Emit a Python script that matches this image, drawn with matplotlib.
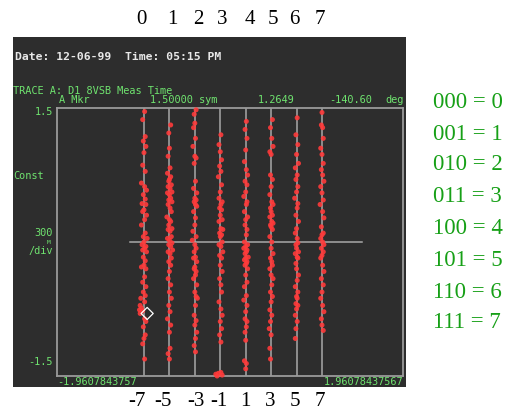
import matplotlib
matplotlib.use("Agg")
import matplotlib.pyplot as plt
from matplotlib.patches import Rectangle

# 8VSB symbol levels and their 3-bit codes
levels = [-7, -5, -3, -1, 1, 3, 5, 7]
codes = ["000", "001", "010", "011", "100", "101", "110", "111"]
top_labels = ["0", "1", "2", "3", "4", "5", "6", "7"]
bottom_labels = ["-7", "-5", "-3", "-1", "1", "3", "5", "7"]

# measured constellation samples per symbol level: (offset from level, value)
sym_m7 = [(0.05, 1.46), (-0.10, 1.37), (0.10, 1.18), (-0.05, 1.13), (0.15, 1.07), (0.00, 1.00),
          (-0.10, 0.86), (0.10, 0.79), (-0.20, 0.66), (0.05, 0.62), (0.20, 0.58), (-0.05, 0.53),
          (0.10, 0.48), (-0.15, 0.43), (0.15, 0.42), (0.00, 0.36), (-0.10, 0.34), (0.20, 0.30),
          (0.05, 0.25), (-0.20, 0.19), (0.10, 0.10), (-0.05, 0.06), (0.25, 0.04), (0.00, 0.00),
          (-0.15, -0.03), (0.15, -0.05), (0.05, -0.07), (-0.10, -0.09), (0.20, -0.11), (-0.05, -0.17),
          (0.10, -0.21), (0.00, -0.26), (-0.20, -0.28), (0.15, -0.30), (0.05, -0.39), (-0.10, -0.45),
          (0.15, -0.50), (-0.05, -0.56), (0.10, -0.60), (-0.25, -0.63), (0.05, -0.67), (-0.30, -0.71),
          (-0.20, -0.74), (-0.35, -0.76), (-0.10, -0.77), (-0.30, -0.80), (0.05, -0.86), (0.15, -0.89),
          (-0.05, -0.95), (0.10, -1.04), (0.00, -1.08), (-0.10, -1.14), (0.05, -1.31)]
sym_m5 = [(0.10, 1.31), (-0.05, 1.22), (0.00, 1.05), (-0.10, 0.96), (0.05, 0.83), (-0.15, 0.77),
          (0.10, 0.73), (0.00, 0.70), (-0.05, 0.68), (0.15, 0.64), (-0.10, 0.62), (0.05, 0.60),
          (0.20, 0.56), (-0.15, 0.55), (0.00, 0.53), (0.10, 0.49), (-0.05, 0.47), (0.20, 0.45),
          (-0.10, 0.42), (0.05, 0.38), (0.15, 0.34), (-0.20, 0.28), (0.00, 0.25), (0.10, 0.23),
          (-0.05, 0.19), (0.20, 0.15), (-0.10, 0.14), (0.05, 0.12), (0.15, 0.06), (-0.15, 0.04),
          (0.00, 0.02), (0.20, -0.01), (-0.05, -0.03), (0.10, -0.05), (0.25, -0.09), (-0.10, -0.11),
          (0.05, -0.13), (0.15, -0.18), (-0.05, -0.22), (0.10, -0.26), (0.00, -0.33), (-0.10, -0.41),
          (0.10, -0.48), (0.00, -0.56), (0.15, -0.63), (-0.05, -0.71), (0.05, -0.78), (-0.15, -0.86),
          (0.10, -0.93), (0.00, -1.01), (0.05, -1.19), (-0.10, -1.25), (0.00, -1.31)]
sym_m3 = [(0.10, 1.48), (-0.05, 1.43), (0.00, 1.33), (-0.10, 1.28), (0.05, 1.16), (-0.15, 1.07),
          (0.00, 0.96), (0.10, 0.94), (-0.05, 0.88), (0.05, 0.68), (-0.10, 0.60), (0.15, 0.55),
          (0.00, 0.49), (0.10, 0.47), (-0.05, 0.45), (0.05, 0.42), (0.15, 0.40), (-0.10, 0.34),
          (0.05, 0.27), (0.00, 0.19), (-0.15, 0.12), (0.10, 0.06), (-0.20, 0.02), (0.00, -0.03),
          (0.10, -0.07), (-0.05, -0.11), (0.05, -0.17), (-0.10, -0.18), (0.15, -0.22), (0.00, -0.28),
          (-0.05, -0.30), (0.10, -0.33), (0.05, -0.37), (-0.10, -0.41), (0.15, -0.48), (0.00, -0.56),
          (0.10, -0.61), (0.20, -0.63), (0.05, -0.71), (-0.05, -0.82), (0.10, -0.88), (0.00, -0.93),
          (0.15, -1.01), (0.05, -1.08), (-0.05, -1.16), (0.05, -1.23)]
sym_m1 = [(0.05, 1.20), (-0.10, 1.09), (0.00, 1.01), (0.10, 0.92), (-0.05, 0.85), (0.05, 0.79),
          (-0.15, 0.73), (0.10, 0.64), (0.00, 0.56), (-0.10, 0.49), (0.15, 0.45), (0.05, 0.42),
          (-0.05, 0.38), (0.10, 0.36), (0.00, 0.30), (0.15, 0.25), (-0.10, 0.23), (0.05, 0.15),
          (0.20, 0.14), (-0.05, 0.10), (0.10, 0.08), (0.00, 0.06), (0.15, 0.00), (-0.10, -0.03),
          (0.05, -0.05), (0.20, -0.11), (-0.05, -0.15), (0.10, -0.18), (0.00, -0.26), (0.15, -0.33),
          (-0.05, -0.41), (0.05, -0.48), (0.10, -0.56), (-0.10, -0.67), (0.05, -0.75), (0.15, -0.82),
          (0.00, -0.89), (0.10, -0.97), (-0.05, -1.04), (0.05, -1.12),
          (-0.35, -1.48), (-0.15, -1.47), (0.05, -1.46), (-0.25, -1.50), (0.15, -1.49)]
sym_p1 = [(0.05, 1.35), (-0.05, 1.26), (0.10, 1.16), (0.00, 1.03), (-0.10, 0.90), (0.05, 0.81),
          (0.15, 0.75), (-0.05, 0.68), (0.10, 0.64), (0.00, 0.56), (-0.15, 0.51), (0.10, 0.45),
          (0.05, 0.42), (-0.10, 0.34), (0.15, 0.28), (0.00, 0.25), (-0.05, 0.19), (0.10, 0.14),
          (0.05, 0.08), (-0.10, 0.00), (0.15, -0.03), (0.00, -0.05), (-0.15, -0.07), (0.10, -0.09),
          (0.05, -0.11), (-0.05, -0.13), (0.20, -0.17), (0.00, -0.18), (-0.10, -0.20), (0.10, -0.22),
          (0.05, -0.24), (-0.05, -0.26), (0.15, -0.30), (0.00, -0.37), (0.10, -0.45), (-0.10, -0.50),
          (0.05, -0.60), (-0.15, -0.65), (0.10, -0.71), (0.00, -0.78), (-0.05, -0.86), (0.10, -0.89),
          (0.05, -0.95), (-0.05, -1.01), (0.00, -1.10), (-0.10, -1.33), (0.05, -1.36), (0.00, -1.42)]
sym_p3 = [(0.10, 1.37), (-0.05, 1.28), (0.05, 1.16), (0.15, 1.07), (-0.10, 1.01), (0.00, 0.98),
          (-0.05, 0.75), (0.10, 0.70), (0.00, 0.62), (-0.10, 0.53), (0.05, 0.45), (0.15, 0.42),
          (-0.05, 0.38), (0.00, 0.34), (0.10, 0.30), (-0.10, 0.28), (0.05, 0.23), (0.15, 0.21),
          (-0.05, 0.19), (0.00, 0.17), (0.10, 0.14), (-0.10, 0.06), (0.05, 0.00), (0.00, -0.07),
          (0.15, -0.13), (-0.05, -0.18), (0.05, -0.22), (0.10, -0.26), (-0.10, -0.30), (0.00, -0.37),
          (0.15, -0.41), (0.05, -0.48), (-0.05, -0.56), (0.10, -0.61), (0.00, -0.67), (-0.10, -0.76),
          (0.05, -0.82), (-0.05, -0.89), (-0.15, -0.97), (0.00, -1.04), (-0.10, -1.19), (-0.05, -1.31)]
sym_p5 = [(0.05, 1.39), (-0.05, 1.20), (0.10, 1.09), (0.00, 0.98), (0.15, 0.88), (-0.10, 0.83),
          (0.05, 0.75), (-0.05, 0.70), (0.10, 0.62), (0.00, 0.56), (-0.15, 0.49), (0.10, 0.43),
          (0.05, 0.38), (-0.05, 0.30), (0.15, 0.23), (0.00, 0.15), (-0.10, 0.10), (0.05, 0.04),
          (0.10, -0.01), (-0.05, -0.03), (0.00, -0.07), (0.15, -0.11), (-0.10, -0.13), (0.05, -0.17),
          (0.10, -0.18), (-0.05, -0.24), (0.00, -0.30), (0.15, -0.37), (0.05, -0.43), (-0.10, -0.50),
          (0.10, -0.56), (0.00, -0.61), (0.05, -0.63), (-0.05, -0.69), (0.10, -0.71), (0.00, -0.75),
          (-0.10, -0.82), (0.05, -0.89), (-0.05, -0.97), (-0.10, -1.08)]
sym_p7 = [(0.00, 1.45), (-0.05, 1.31), (0.05, 1.28), (0.10, 1.16), (-0.10, 1.05), (0.00, 0.98),
          (0.10, 0.88), (-0.05, 0.81), (0.05, 0.75), (0.15, 0.68), (-0.10, 0.62), (0.00, 0.55),
          (0.10, 0.47), (-0.15, 0.42), (0.05, 0.34), (0.15, 0.27), (-0.05, 0.17), (0.10, 0.10),
          (0.00, 0.08), (-0.10, 0.04), (0.05, 0.00), (0.15, -0.03), (-0.05, -0.07), (0.10, -0.11),
          (0.00, -0.15), (-0.10, -0.18), (0.05, -0.26), (0.15, -0.33), (-0.05, -0.41), (0.10, -0.48),
          (0.00, -0.56), (-0.10, -0.63), (0.05, -0.71), (0.15, -0.78), (-0.05, -0.86), (0.00, -0.93),
          (0.10, -0.99)]
samples = [sym_m7, sym_m5, sym_m3, sym_m1, sym_p1, sym_p3, sym_p5, sym_p7]

# marker readout
marker_level, marker_offset, marker_value = -7, 0.25, -0.80

W, H = 529, 416
fig = plt.figure(figsize=(W / 100, H / 100), dpi=100)
fig.patch.set_facecolor("white")


def fx(px):
    return px / W


def fy(py):
    return 1 - py / H


# instrument screen
screen = Rectangle((fx(13), fy(387)), fx(406) - fx(13), fy(37) - fy(387),
                   transform=fig.transFigure, facecolor="#2d2d2d",
                   edgecolor="none", zorder=-5)
fig.add_artist(screen)

ax = fig.add_axes([fx(57), fy(376), fx(403) - fx(57), fy(108) - fy(376)])
ax.set_zorder(2)
ax.set_facecolor("#2d2d2d")
ax.set_xlim(-13.84, 13.37)
ax.set_ylim(-1.5, 1.5)
for s in ax.spines.values():
    s.set_color("#9a9a9a")
    s.set_linewidth(1.3)
ax.set_xticks([])
ax.set_yticks([])

grid_col = "#a8a8a8"
for lv in levels:
    ax.axvline(lv, color=grid_col, lw=1.1, zorder=1)
ax.plot([-8.1, 10.15], [0, 0], color=grid_col, lw=1.1, zorder=1)

for lv, pts in zip(levels, samples):
    xs = [lv + d for d, _ in pts]
    ys = [v for _, v in pts]
    ax.scatter(xs, ys, s=13, marker="o", color="#ff3a3a", edgecolors="none",
               alpha=0.9, zorder=3, clip_on=False)

ax.scatter([marker_level + marker_offset], [marker_value], s=38, marker="D",
           facecolors="none", edgecolors="white", linewidths=0.9, zorder=4)

mono = "DejaVu Sans Mono"
green = "#6fe36f"
fs = 7.4
fig.text(fx(15), fy(57), "Date: 12-06-99  Time: 05:15 PM", family=mono, size=8.2,
         weight="bold", color="#e8e8e8", va="center", ha="left")
fig.text(fx(13), fy(91), "TRACE A: D1 8VSB Meas Time", family=mono, size=fs,
         color=green, va="center", ha="left")
fig.text(fx(59), fy(100), "A Mkr", family=mono, size=fs, color=green, va="center")
fig.text(fx(150), fy(100), "1.50000 sym", family=mono, size=fs, color=green, va="center")
fig.text(fx(258), fy(100), "1.2649", family=mono, size=fs, color=green, va="center")
fig.text(fx(329), fy(100), "-140.60", family=mono, size=fs, color=green, va="center")
fig.text(fx(385), fy(100), "deg", family=mono, size=fs, color=green, va="center")
fig.text(fx(53), fy(112), "1.5", family=mono, size=fs, color=green, va="center", ha="right")
fig.text(fx(13), fy(176), "Const", family=mono, size=fs, color=green, va="center", ha="left")
fig.text(fx(53), fy(233), "300", family=mono, size=fs, color=green, va="center", ha="right")
fig.text(fx(49), fy(242), "M", family=mono, size=4.5, color=green, va="center", ha="center")
fig.text(fx(53), fy(251), "/div", family=mono, size=fs, color=green, va="center", ha="right")
fig.text(fx(53), fy(362), "-1.5", family=mono, size=fs, color=green, va="center", ha="right")
fig.text(fx(57), fy(382), "-1.9607843757", family=mono, size=fs, color=green,
         va="center", ha="left")
fig.text(fx(403), fy(382), "1.96078437567", family=mono, size=fs, color=green,
         va="center", ha="right")

# symbol index above, level below
serif = "Liberation Serif"
top_x = [141, 172, 198, 222, 250, 273, 294, 320]
bot_x = [137, 163, 196, 219, 245, 270, 295, 320]
for x, t in zip(top_x, top_labels):
    fig.text(fx(x), fy(19), t, family=serif, size=15, color="black", ha="center", va="center")
for x, t in zip(bot_x, bottom_labels):
    fig.text(fx(x), fy(401), t, family=serif, size=15, color="black", ha="center", va="center")

# code mapping
row_y = [103, 134, 165, 197, 228, 260, 292, 323]
for y, c, t in zip(row_y, codes, top_labels):
    fig.text(fx(433), fy(y), f"{c} = {t}", family=serif, size=16.5, color="#17a017",
             ha="left", va="center")

fig.savefig("out.png", dpi=100, facecolor="white")
